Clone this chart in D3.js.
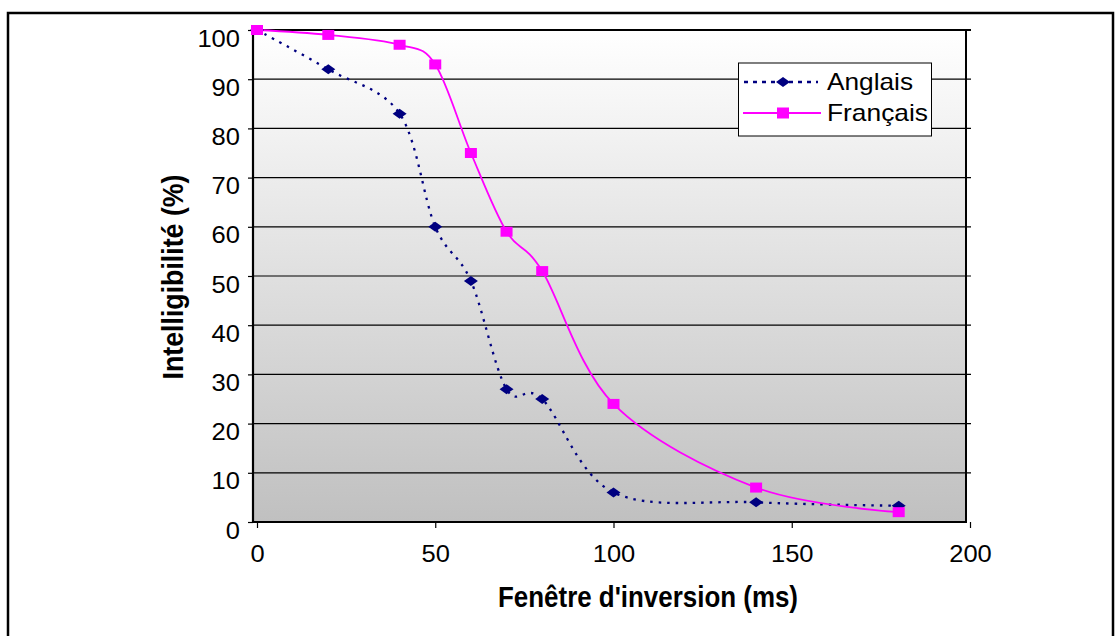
<!DOCTYPE html>
<html><head><meta charset="utf-8">
<script src="https://cdn.jsdelivr.net/npm/d3@7"></script>
<style>body{margin:0;background:#fff}svg{display:block;font-family:"Liberation Sans",Arial,sans-serif}</style>
</head><body>
<svg id="c" width="1118" height="636"></svg>
<script>
const xValues = [0, 20, 40, 50, 60, 70, 80, 100, 140, 180];
const anglais = [100, 92, 83, 60, 49, 27, 25, 6, 4, 3.3];
const francais = [100, 99, 97, 93, 75, 59, 51, 24, 7, 2];
const xTicks = [0, 50, 100, 150, 200];
const yTicks = [0, 10, 20, 30, 40, 50, 60, 70, 80, 90, 100];
const seriesNames = ["Anglais", "Français"];
const xTitle = "Fenêtre d'inversion (ms)";
const yTitle = "Intelligibilité (%)";

const svg = d3.select("#c");
const plot = {left: 253, right: 966, top: 30, bottom: 522};
const x = d3.scaleLinear().domain([0, 200]).range([257, 970]);
const y = d3.scaleLinear().domain([0, 100]).range([522, 30]);

// outer frame
svg.append("rect").attr("x", 8).attr("y", 13).attr("width", 1105).attr("height", 640)
  .attr("fill", "none").attr("stroke", "#000").attr("stroke-width", 2.5);

// gradient
const defs = svg.append("defs");
const g = defs.append("linearGradient").attr("id", "bg").attr("x1", 0).attr("y1", 0).attr("x2", 0).attr("y2", 1);
g.append("stop").attr("offset", "0%").attr("stop-color", "#ffffff");
g.append("stop").attr("offset", "100%").attr("stop-color", "#c0c0c0");
svg.append("rect").attr("x", plot.left).attr("y", plot.top)
  .attr("width", plot.right - plot.left).attr("height", plot.bottom - plot.top)
  .attr("fill", "url(#bg)");

// gridlines
svg.append("g").selectAll("line").data(yTicks.filter(d => d > 0 && d < 100)).join("line")
  .attr("x1", plot.left).attr("x2", 971)
  .attr("y1", d => y(d)).attr("y2", d => y(d))
  .attr("stroke", "#000").attr("stroke-width", 1.2);

// plot border top/right
svg.append("line").attr("x1", plot.left).attr("x2", 971).attr("y1", plot.top).attr("y2", plot.top)
  .attr("stroke", "#000").attr("stroke-width", 2);
svg.append("line").attr("x1", plot.right).attr("x2", plot.right).attr("y1", plot.top).attr("y2", plot.bottom)
  .attr("stroke", "#000").attr("stroke-width", 2);

// y axis
const yAxis = svg.append("g").attr("transform", `translate(${plot.left},0)`)
  .call(d3.axisLeft(y).tickValues(yTicks).tickSize(5).tickFormat(d3.format("d")));
yAxis.select(".domain").attr("d", `M0,${plot.top}V${plot.bottom}`).attr("stroke-width", 2.2);
yAxis.selectAll(".tick line").attr("stroke-width", 1.2);
yAxis.selectAll(".tick text").attr("font-size", 24).attr("font-family", "Liberation Sans, Arial")
  .attr("x", -13).attr("dy", null).attr("y", 16).attr("fill", "#000")
  .attr("textLength", d => String(d).length * 14.2).attr("lengthAdjust", "spacingAndGlyphs");

// x axis
const xAxis = svg.append("g").attr("transform", `translate(0,${plot.bottom})`)
  .call(d3.axisBottom(x).tickValues(xTicks).tickSize(6).tickFormat(d3.format("d")));
xAxis.select(".domain").attr("d", `M${plot.left},0H${plot.right + 1}`).attr("stroke-width", 2.2);
xAxis.selectAll(".tick line").attr("stroke-width", 1.2);
xAxis.selectAll(".tick text").attr("font-size", 24).attr("font-family", "Liberation Sans, Arial")
  .attr("y", 40).attr("dy", null).attr("fill", "#000")
  .attr("textLength", d => String(d).length * 14.2).attr("lengthAdjust", "spacingAndGlyphs");

// lines
const line = d3.line().x(d => x(d[0])).y(d => y(d[1])).curve(d3.curveCatmullRom.alpha(0));
const dA = xValues.map((v, i) => [v, anglais[i]]);
const dF = xValues.map((v, i) => [v, francais[i]]);
svg.append("path").attr("d", line(dA)).attr("fill", "none").attr("stroke", "#000080")
  .attr("stroke-width", 2.3).attr("stroke-dasharray", "2.5,6");
svg.append("path").attr("d", line(dF)).attr("fill", "none").attr("stroke", "#ff00ff")
  .attr("stroke-width", 1.8);

const diamond = "M0,-5L7,0L0,5L-7,0Z";
svg.append("g").selectAll("path").data(dA).join("path")
  .attr("d", diamond).attr("transform", d => `translate(${x(d[0])},${y(d[1])})`).attr("fill", "#000080");
svg.append("g").selectAll("rect").data(dF).join("rect")
  .attr("x", d => x(d[0]) - 6).attr("y", d => y(d[1]) - 5).attr("width", 12).attr("height", 10)
  .attr("fill", "#ff00ff");

// legend
const lg = svg.append("g");
lg.append("rect").attr("x", 738.5).attr("y", 63).attr("width", 193).attr("height", 73)
  .attr("fill", "#fff").attr("stroke", "#000").attr("stroke-width", 1);
const rows = [82, 113];
lg.append("line").attr("x1", 744).attr("x2", 818).attr("y1", rows[0]).attr("y2", rows[0])
  .attr("stroke", "#000080").attr("stroke-width", 2.3).attr("stroke-dasharray", "4,5");
lg.append("path").attr("d", diamond).attr("transform", `translate(783,${rows[0]})`).attr("fill", "#000080");
lg.append("line").attr("x1", 743).attr("x2", 821).attr("y1", rows[1]).attr("y2", rows[1])
  .attr("stroke", "#ff00ff").attr("stroke-width", 1.8);
lg.append("rect").attr("x", 783 - 6).attr("y", rows[1] - 5.5).attr("width", 12).attr("height", 11).attr("fill", "#ff00ff");
lg.selectAll("text").data(seriesNames).join("text")
  .attr("x", 827).attr("y", (d, i) => rows[i] + 8)
  .attr("font-size", 24).attr("textLength", (d, i) => [86, 101][i]).attr("lengthAdjust", "spacingAndGlyphs")
  .text(d => d);

// titles
svg.append("text").attr("x", 648).attr("y", 607).attr("text-anchor", "middle")
  .attr("font-size", 30).attr("font-weight", "bold")
  .attr("textLength", 300).attr("lengthAdjust", "spacingAndGlyphs").text(xTitle);
svg.append("text").attr("transform", "translate(183,277) rotate(-90)").attr("text-anchor", "middle")
  .attr("font-size", 29).attr("font-weight", "bold")
  .attr("textLength", 205).attr("lengthAdjust", "spacingAndGlyphs").text(yTitle);
</script>
</body></html>
